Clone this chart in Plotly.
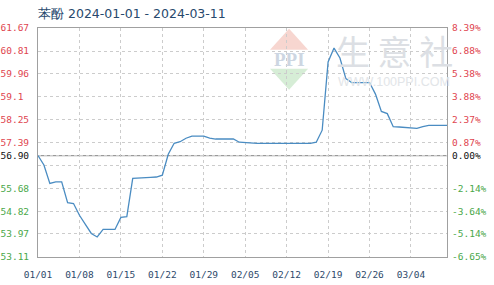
import plotly.graph_objects as go

# ---- data ----
dates = [
    "2024-01-01", "2024-01-02", "2024-01-03", "2024-01-04", "2024-01-05", "2024-01-06",
    "2024-01-07", "2024-01-08", "2024-01-09", "2024-01-10", "2024-01-11", "2024-01-12",
    "2024-01-13", "2024-01-14", "2024-01-15", "2024-01-16", "2024-01-17", "2024-01-18",
    "2024-01-19", "2024-01-20", "2024-01-21", "2024-01-22", "2024-01-23", "2024-01-24",
    "2024-01-25", "2024-01-26", "2024-01-27", "2024-01-28", "2024-01-29", "2024-01-30",
    "2024-01-31", "2024-02-01", "2024-02-02", "2024-02-03", "2024-02-04", "2024-02-05",
    "2024-02-06", "2024-02-07", "2024-02-08", "2024-02-09", "2024-02-10", "2024-02-11",
    "2024-02-12", "2024-02-13", "2024-02-14", "2024-02-15", "2024-02-16", "2024-02-17",
    "2024-02-18", "2024-02-19", "2024-02-20", "2024-02-21", "2024-02-22", "2024-02-23",
    "2024-02-24", "2024-02-25", "2024-02-26", "2024-02-27", "2024-02-28", "2024-02-29",
    "2024-03-01", "2024-03-02", "2024-03-03", "2024-03-04", "2024-03-05", "2024-03-06",
    "2024-03-07", "2024-03-08", "2024-03-09", "2024-03-10", "2024-03-11",
]
prices = [
    56.90, 56.55, 55.86, 55.92, 55.92, 55.14,
    55.11, 54.67, 54.33, 53.99, 53.86, 54.14,
    54.14, 54.14, 54.59, 54.62, 56.05, 56.07,
    56.09, 56.09, 56.10, 56.17, 56.95, 57.36,
    57.42, 57.55, 57.63, 57.63, 57.63, 57.55,
    57.52, 57.52, 57.52, 57.52, 57.40, 57.38,
    57.36, 57.36, 57.36, 57.36, 57.36, 57.36,
    57.36, 57.36, 57.36, 57.36, 57.36, 57.40,
    57.85, 60.40, 60.92, 60.55, 59.78, 59.63,
    59.63, 59.63, 59.63, 59.20, 58.55, 58.47,
    57.98, 57.97, 57.95, 57.92, 57.92, 57.98,
    58.03, 58.03, 58.03, 58.03, 58.03,
]
base_value = 56.90
y_ticks = [53.11, 53.97, 54.82, 55.68, 56.535, 57.39, 58.25, 59.10, 59.96, 60.81, 61.67]
y_tick_labels = ["53.11", "53.97", "54.82", "55.68", "", "57.39", "58.25", "59.1\u00a0", "59.96", "60.81", "61.67"]
pct_labels = ["-6.65%", "-5.14%", "-3.64%", "-2.14%", "", "0.87%", "2.37%", "3.88%", "5.38%", "6.88%", "8.39%"]
x_ticks = ["2024-01-01", "2024-01-08", "2024-01-15", "2024-01-22", "2024-01-29",
           "2024-02-05", "2024-02-12", "2024-02-19", "2024-02-26", "2024-03-04"]
x_tick_labels = ["01/01", "01/08", "01/15", "01/22", "01/29", "02/05", "02/12", "02/19", "02/26", "03/04"]
title_text = "苯酚 2024-01-01 - 2024-03-11"

RED = "#e0454f"
GREEN = "#4aa84a"
BLACK = "#111111"
MONO = "DejaVu Sans Mono"

def colored(lbl, v):
    if lbl == "":
        return ""
    c = RED if v > base_value else GREEN
    return f"<span style='color:{c}'>{lbl}</span>"

tv = y_ticks + [base_value]
left_text = [colored(l, v) for l, v in zip(y_tick_labels, y_ticks)] + [f"<span style='color:{BLACK}'>56.90</span>"]
right_text = [colored(l, v) for l, v in zip(pct_labels, y_ticks)] + [f"<span style='color:{BLACK}'>0.00%</span>"]

W, H = 494, 285
L, R, T, B = 38.3, 446.7, 28.3, 256.7

def px(x, y):
    return (x - L) / (R - L), (B - y) / (B - T)

fig = go.Figure()
fig.add_trace(go.Scatter(x=dates, y=prices, mode="lines",
                         line=dict(color="#4a8cc2", width=1.3), hoverinfo="skip"))
fig.add_trace(go.Scatter(x=dates, y=prices, mode="lines", yaxis="y2",
                         line=dict(color="rgba(0,0,0,0)", width=0), hoverinfo="skip",
                         showlegend=False))

shapes = []
# watermark logo
a = px(289, 29); l1 = px(270, 50); r1 = px(308, 50)
shapes.append(dict(type="path", xref="paper", yref="paper",
                   path=f"M {a[0]},{a[1]} L {l1[0]},{l1[1]} L {r1[0]},{r1[1]} Z",
                   fillcolor="rgba(240,180,170,0.55)", line=dict(width=0), layer="below"))
b = px(289, 90); l2 = px(270, 69); r2 = px(308, 69)
shapes.append(dict(type="path", xref="paper", yref="paper",
                   path=f"M {b[0]},{b[1]} L {l2[0]},{l2[1]} L {r2[0]},{r2[1]} Z",
                   fillcolor="rgba(180,222,180,0.55)", line=dict(width=0), layer="below"))
# baseline
shapes.append(dict(type="line", xref="paper", yref="y", x0=0, x1=1, y0=base_value, y1=base_value,
                   line=dict(color="#9a9a9a", width=1.2), layer="below"))

annotations = []
pc = px(289, 59.5)
annotations.append(dict(x=pc[0], y=pc[1], xref="paper", yref="paper", text="<b>PPI</b>",
                        xanchor="center", yanchor="middle",
                        showarrow=False, font=dict(family="Liberation Serif", size=19, color="#cdd6e2")))
sc = px(394, 51)
annotations.append(dict(x=sc[0], y=sc[1], xref="paper", yref="paper", text="生 意 社",
                        xanchor="center", yanchor="middle",
                        showarrow=False, font=dict(family="Noto Sans CJK SC", size=34, color="#dcdfe4")))
wc = px(394, 82)
annotations.append(dict(x=wc[0], y=wc[1], xref="paper", yref="paper", text="WWW.100PPI.COM",
                        xanchor="center", yanchor="middle",
                        showarrow=False, font=dict(family="Liberation Sans", size=12.5, color="#e2e5e8")))

fig.update_layout(
    width=W, height=H,
    margin=dict(l=L, r=W - R, t=T, b=H - B, pad=0, autoexpand=False),
    paper_bgcolor="white", plot_bgcolor="white",
    showlegend=False,
    title=dict(text=title_text, x=38 / W, xanchor="left", y=1 - 14 / H, yanchor="middle",
               font=dict(family="DejaVu Sans", size=12.5, color="#27496d")),
    xaxis=dict(type="date", range=["2024-01-01", "2024-03-10 02:00"],
               tickvals=x_ticks, ticktext=x_tick_labels,
               tickfont=dict(family=MONO, size=9.5, color="#2e4a6b"),
               showgrid=True, gridcolor="#cccccc", griddash="dot", gridwidth=1,
               showline=True, linecolor="#a0a0a0", linewidth=1, mirror=True,
               ticks="", ticklabelstandoff=9, zeroline=False, automargin=False),
    yaxis=dict(range=[53.11, 61.67], tickvals=tv, ticktext=left_text,
               tickfont=dict(family=MONO, size=9.5),
               showgrid=True, gridcolor="#cccccc", griddash="dot", gridwidth=1,
               showline=True, linecolor="#a0a0a0", linewidth=1, mirror=True,
               ticks="", ticklabelstandoff=6, zeroline=False, automargin=False),
    yaxis2=dict(range=[53.11, 61.67], overlaying="y", side="right", tickvals=tv, ticktext=right_text,
                tickfont=dict(family=MONO, size=9.5), showgrid=False, zeroline=False,
                showline=False, ticks="", ticklabelstandoff=4, automargin=False),
    shapes=shapes, annotations=annotations,
)

fig.write_html("out.html")
